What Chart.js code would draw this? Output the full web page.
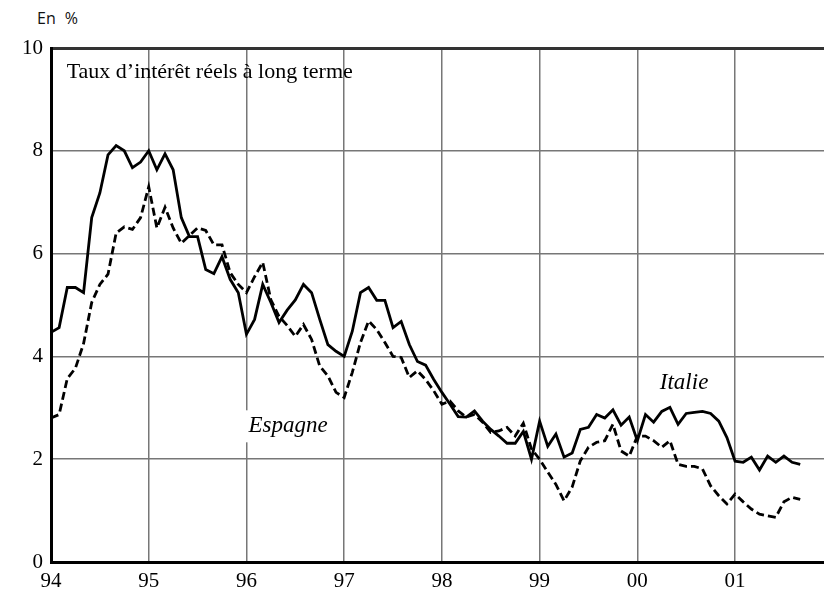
<!DOCTYPE html>
<html>
<head>
<meta charset="utf-8">
<script src="https://cdn.jsdelivr.net/npm/chart.js@4/dist/chart.umd.min.js"></script>
<style>
    body { margin: 0; background: #fff; }
    #wrap { position: relative; width: 824px; height: 595px; overflow: hidden; }
    #unit { position: absolute; left: 37px; top: 7px; font: 16px "Open Sans", sans-serif; word-spacing: 5px; color: #111; }
    canvas { position: absolute; left: 0; top: 0; }
</style>
</head>
<body>
<div id="wrap">
    <div id="unit">En %</div>
    <canvas id="chart" width="824" height="595"></canvas>
</div>
<script>
//monthly values, january 1994 to september 2001
var startYear = 1994;
var italie = [
    4.47, 4.56, 5.34, 5.34, 5.24, 6.70, 7.18, 7.92, 8.10, 8.00, 7.67, 7.78,
    8.00, 7.63, 7.94, 7.63, 6.70, 6.33, 6.33, 5.69, 5.61, 5.94, 5.50, 5.24,
    4.43, 4.72, 5.40, 5.05, 4.66, 4.90, 5.10, 5.40, 5.24, 4.72, 4.23, 4.10,
    4.00, 4.49, 5.24, 5.34, 5.09, 5.09, 4.56, 4.68, 4.23, 3.90, 3.83, 3.55,
    3.30, 3.07, 2.83, 2.82, 2.94, 2.74, 2.58, 2.45, 2.31, 2.31, 2.54, 2.00,
    2.74, 2.25, 2.49, 2.04, 2.12, 2.58, 2.62, 2.87, 2.80, 2.96, 2.66, 2.82,
    2.36, 2.87, 2.72, 2.93, 3.01, 2.68, 2.89, 2.91, 2.93, 2.89, 2.74, 2.42,
    1.96, 1.94, 2.04, 1.79, 2.06, 1.94, 2.06, 1.94, 1.90
];
var espagne = [
    2.80, 2.87, 3.57, 3.77, 4.25, 5.05, 5.40, 5.60, 6.40, 6.52, 6.47, 6.70,
    7.30, 6.50, 6.90, 6.50, 6.20, 6.35, 6.50, 6.45, 6.17, 6.17, 5.63, 5.40,
    5.24, 5.55, 5.83, 5.10, 4.78, 4.60, 4.39, 4.62, 4.33, 3.81, 3.62, 3.30,
    3.20, 3.69, 4.27, 4.69, 4.52, 4.27, 4.00, 3.98, 3.59, 3.72, 3.55, 3.33,
    3.07, 3.13, 2.94, 2.82, 2.87, 2.72, 2.52, 2.55, 2.62, 2.45, 2.70, 2.20,
    2.00, 1.75, 1.51, 1.19, 1.46, 1.97, 2.23, 2.33, 2.36, 2.68, 2.16, 2.06,
    2.45, 2.45, 2.36, 2.23, 2.36, 1.90, 1.86, 1.86, 1.81, 1.48, 1.29, 1.13,
    1.32, 1.17, 1.03, 0.93, 0.90, 0.87, 1.17, 1.26, 1.22
];
var yearTicks = [1994, 1995, 1996, 1997, 1998, 1999, 2000, 2001];
var yTicks = [0, 2, 4, 6, 8, 10];

var serif = '"Liberation Serif", "Times New Roman", serif';

function toPoints(values) {
    return values.map(function (v, i) {
        return { x: startYear + i / 12, y: v };
    });
}

//texts drawn inside the plot, placed in data units
var notes = [
    { text: 'Taux d\u2019intérêt réels à long terme', x: 1994.16, y: 9.53, italic: false, size: 22, box: false },
    { text: 'Espagne', x: 1996.02, y: 2.64, italic: true, size: 23, box: true },
    { text: 'Italie', x: 2000.23, y: 3.49, italic: true, size: 23, box: false }
];

var notesPlugin = {
    id: 'notes',
    afterDatasetsDraw: function (chart) {
        var ctx = chart.ctx;
        var xs = chart.scales.x, ys = chart.scales.y;
        ctx.save();
        notes.forEach(function (n) {
            ctx.font = (n.italic ? 'italic ' : '') + n.size + 'px ' + serif;
            ctx.textAlign = 'left';
            ctx.textBaseline = 'middle';
            var px = xs.getPixelForValue(n.x);
            var py = ys.getPixelForValue(n.y);
            if (n.box) {
                var w = ctx.measureText(n.text).width;
                ctx.fillStyle = '#fff';
                ctx.fillRect(px - 4, py - 16, w + 8, 32);
            }
            ctx.fillStyle = '#000';
            ctx.fillText(n.text, px, py);
        });
        ctx.restore();
    }
};

var config = {
    type: 'line',
    data: {
        datasets: [{
            label: 'Italie',
            data: toPoints(italie),
            borderColor: '#000',
            borderWidth: 2.8,
            pointRadius: 0,
            tension: 0,
            fill: false
        }, {
            label: 'Espagne',
            data: toPoints(espagne),
            borderColor: '#000',
            borderWidth: 2.8,
            borderDash: [8, 4],
            pointRadius: 0,
            tension: 0,
            fill: false
        }]
    },
    options: {
        responsive: false,
        devicePixelRatio: 1,
        animation: false,
        layout: { padding: { top: 48, right: 0, left: 0, bottom: 0 } },
        plugins: {
            legend: { display: false },
            tooltip: { enabled: false }
        },
        scales: {
            x: {
                type: 'linear',
                min: 1994,
                max: 2001.91,
                afterBuildTicks: function (scale) {
                    scale.ticks = yearTicks.map(function (v) { return { value: v }; });
                },
                afterFit: function (scale) { scale.height = 33; },
                ticks: {
                    font: { family: serif, size: 21 },
                    color: '#000',
                    padding: 7,
                    maxRotation: 0,
                    callback: function (v) { return String(v).slice(2); }
                },
                grid: { color: '#777', lineWidth: 1.5, drawTicks: false },
                border: { display: true, color: '#000', width: 3 }
            },
            y: {
                min: 0,
                max: 10,
                afterBuildTicks: function (scale) {
                    scale.ticks = yTicks.map(function (v) { return { value: v }; });
                },
                afterFit: function (scale) { scale.width = 51; },
                ticks: {
                    font: { family: serif, size: 21 },
                    color: '#000',
                    padding: 8
                },
                grid: {
                    color: function (c) { return c.tick && c.tick.value === 10 ? '#333' : '#777'; },
                    lineWidth: function (c) { return c.tick && c.tick.value === 10 ? 3 : 1.5; },
                    drawTicks: false
                },
                border: { display: true, color: '#000', width: 3 }
            }
        }
    },
    plugins: [notesPlugin]
};

new Chart(document.getElementById('chart').getContext('2d'), config);
</script>
</body>
</html>
